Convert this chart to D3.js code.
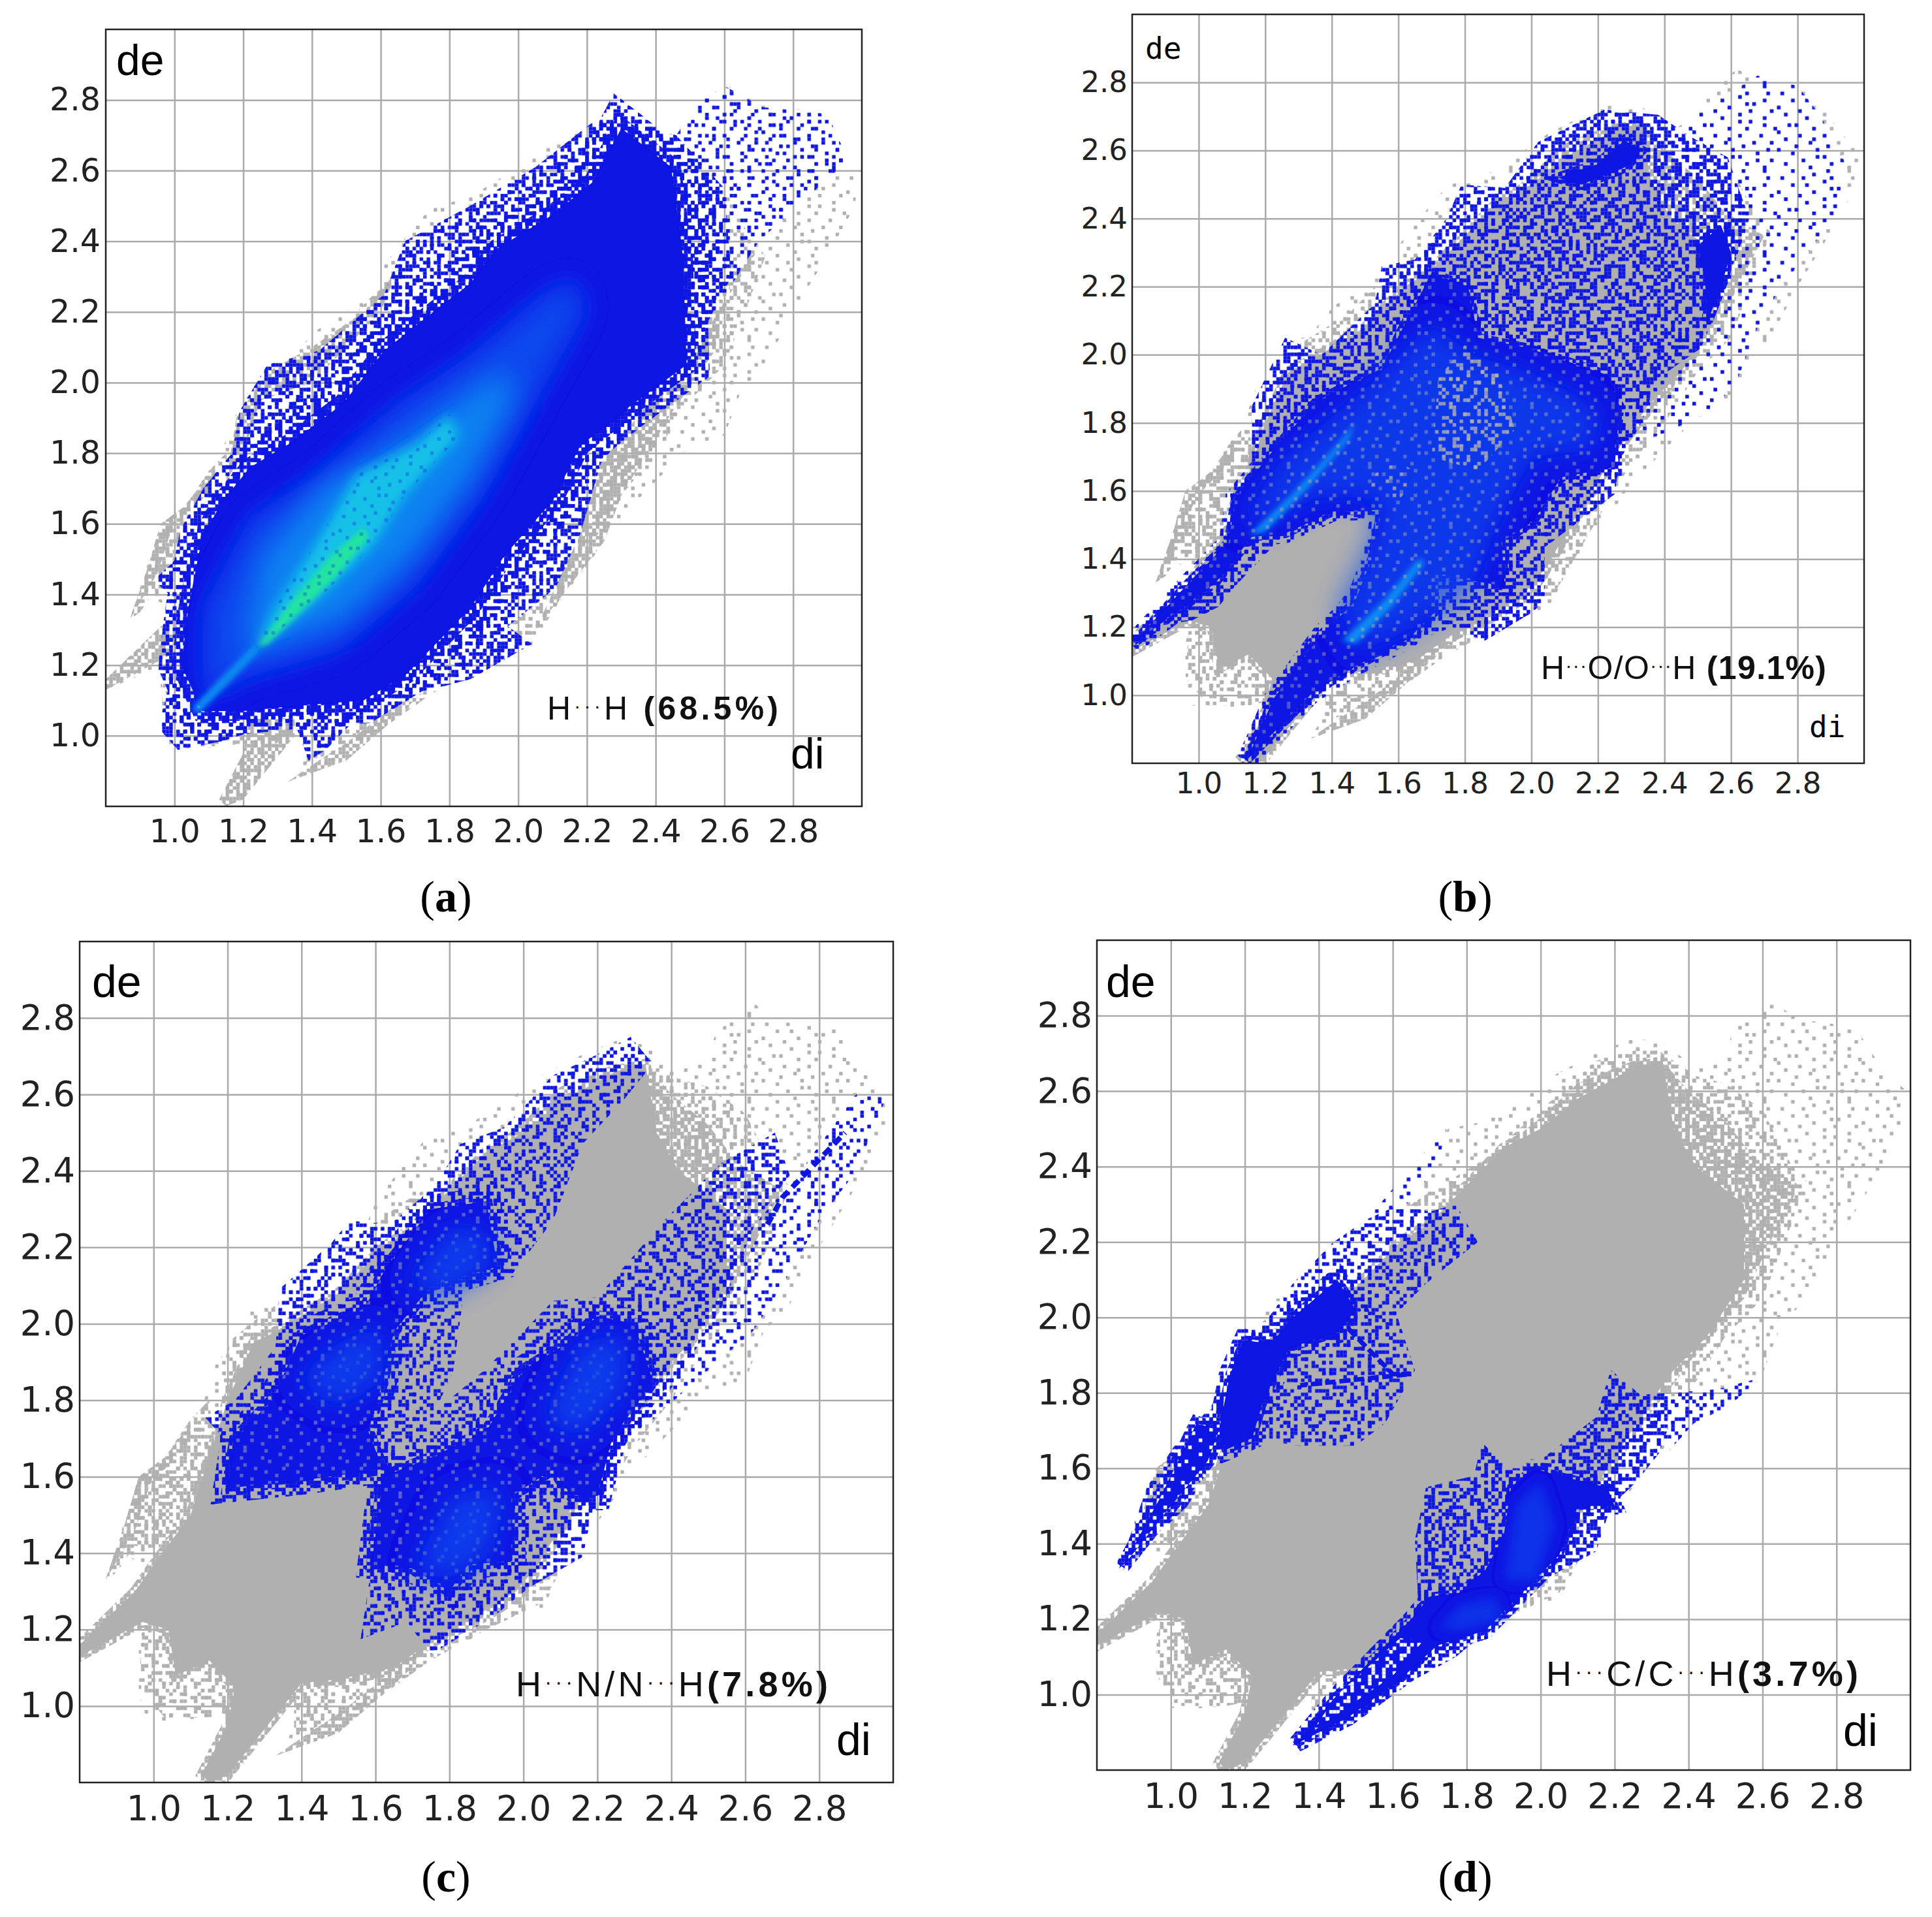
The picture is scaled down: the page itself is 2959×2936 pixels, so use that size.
<!DOCTYPE html>
<html>
<head>
<meta charset="utf-8">
<script src="https://cdn.jsdelivr.net/npm/d3@7"></script>
<style>
  html, body { margin: 0; padding: 0; background: #fff; }
  svg { display: block; }
</style>
</head>
<body>
<div id="chart"></div>
<script>
// all outlines are [di, de]
const tickValues = [1.0, 1.2, 1.4, 1.6, 1.8, 2.0, 2.2, 2.4, 2.6, 2.8];

// grey cloud, the same in all four plots
const greyOuter = [[0.80,1.13],[0.80,1.16],[0.95,1.30],[1.0,1.36],[0.93,1.39],[0.87,1.33],[0.92,1.48],[0.96,1.6],[1.0,1.63],[1.07,1.68],[1.13,1.78],[1.17,1.9],[1.22,1.95],[1.27,2.05],[1.33,2.05],[1.4,2.14],[1.5,2.2],[1.58,2.27],[1.6,2.32],[1.68,2.42],[1.75,2.5],[1.85,2.52],[1.95,2.58],[2.05,2.65],[2.15,2.70],[2.25,2.74],[2.33,2.73],[2.42,2.66],[2.5,2.7],[2.52,2.76],[2.58,2.81],[2.62,2.84],[2.7,2.79],[2.85,2.77],[2.93,2.65],[2.99,2.6],[2.98,2.5],[2.9,2.36],[2.8,2.2],[2.72,2.05],[2.65,1.98],[2.6,1.85],[2.5,1.82],[2.4,1.72],[2.3,1.62],[2.25,1.55],[2.2,1.48],[2.15,1.42],[2.1,1.35],[2.05,1.25],[1.95,1.24],[1.85,1.17],[1.75,1.12],[1.65,1.07],[1.6,1.02],[1.5,0.97],[1.4,0.92],[1.33,0.87],[1.38,0.94],[1.38,1.03],[1.35,1.0],[1.17,0.8],[1.13,0.82],[1.2,0.95],[1.2,1.0],[1.15,0.97],[1.03,0.96],[0.98,0.97],[0.96,1.03],[0.96,1.15],[0.97,1.2]];
const greyMid = [[0.96,1.05],[0.97,1.2],[1.1,1.5],[1.18,1.75],[1.2,1.95],[1.3,2.03],[1.45,2.12],[1.58,2.25],[1.68,2.32],[1.85,2.42],[2.0,2.55],[2.15,2.68],[2.3,2.72],[2.42,2.64],[2.5,2.62],[2.6,2.55],[2.68,2.4],[2.72,2.36],[2.66,2.2],[2.6,2.05],[2.5,1.95],[2.4,1.8],[2.3,1.68],[2.2,1.52],[2.1,1.35],[2.05,1.27],[1.9,1.2],[1.75,1.12],[1.62,1.03],[1.5,0.97],[1.38,0.92],[1.38,1.03],[1.25,0.95],[1.2,0.98],[1.15,0.97],[1.03,0.97]];
const greyFinger = [[0.87,1.33],[0.92,1.47],[0.96,1.6],[1.03,1.65],[1.1,1.75],[1.15,1.8],[1.17,1.65],[1.1,1.5],[1.0,1.4],[0.95,1.42],[0.9,1.35]];
const greyFingerEdge = [[0.87,1.33],[0.92,1.47],[0.96,1.6],[1.03,1.65],[1.1,1.74],[1.1,1.69],[0.99,1.58],[0.95,1.46]];
const greyHeavy = [[0.80,1.13],[0.80,1.16],[0.95,1.30],[1.0,1.37],[1.1,1.5],[1.15,1.65],[1.2,1.8],[1.27,1.95],[1.33,1.98],[1.5,2.08],[1.62,2.2],[1.7,2.25],[1.8,2.35],[1.9,2.45],[2.0,2.53],[2.1,2.62],[2.25,2.68],[2.33,2.68],[2.4,2.6],[2.5,2.52],[2.58,2.42],[2.7,2.35],[2.62,2.2],[2.55,2.05],[2.45,1.95],[2.38,1.85],[2.3,1.75],[2.2,1.6],[2.05,1.35],[2.0,1.28],[1.9,1.22],[1.75,1.15],[1.65,1.08],[1.5,1.05],[1.4,1.05],[1.35,1.0],[1.2,0.82],[1.15,0.8],[1.13,0.82],[1.2,0.95],[1.22,1.05],[1.15,1.12],[1.06,1.08],[1.04,1.2],[0.97,1.22]];
const greyCore = [[0.80,1.13],[0.80,1.16],[0.95,1.30],[1.0,1.37],[1.1,1.5],[1.15,1.65],[1.2,1.8],[1.27,1.95],[1.33,1.98],[1.5,2.08],[1.62,2.2],[1.7,2.25],[1.8,2.35],[1.9,2.45],[2.0,2.5],[2.1,2.58],[2.25,2.66],[2.33,2.68],[2.36,2.5],[2.42,2.4],[2.55,2.3],[2.55,2.1],[2.45,1.95],[2.35,1.85],[2.28,1.75],[2.18,1.6],[2.04,1.37],[1.98,1.3],[1.88,1.24],[1.75,1.17],[1.65,1.1],[1.5,1.07],[1.4,1.06],[1.35,1.0],[1.2,0.82],[1.15,0.8],[1.13,0.82],[1.2,0.95],[1.22,1.05],[1.15,1.12],[1.06,1.08],[1.04,1.2],[0.97,1.22]];
const greyLowerBand = [[1.33,0.87],[1.5,0.93],[1.62,1.03],[1.72,1.12],[1.66,1.1],[1.5,0.98],[1.42,0.93]];
// the bits of grey that still show next to the blue of plot (a)
const aGreyLowerRight = [[2.05,1.3],[2.25,1.55],[2.3,1.68],[2.45,1.92],[2.58,2.1],[2.62,2.3],[2.7,2.38],[2.55,2.15],[2.4,1.97],[2.24,1.77],[2.18,1.57]];
const aGreyUpperLeft = [[1.15,1.72],[1.18,1.9],[1.27,2.03],[1.4,2.1],[1.55,2.2],[1.65,2.32],[1.6,2.2],[1.4,2.0],[1.25,1.95],[1.2,1.8]];
const aGreyWedge = [[0.8,1.13],[0.8,1.16],[0.95,1.3],[1.03,1.37],[1.03,1.25],[0.97,1.22]];
const aGreyBottom = [[1.15,0.8],[1.13,0.82],[1.2,0.95],[1.22,1.05],[1.35,1.05],[1.35,1.0],[1.2,0.82]];

// (a) H...H
const aBlueFar = [[2.46,2.7],[2.52,2.79],[2.6,2.84],[2.71,2.78],[2.9,2.76],[2.96,2.63],[2.7,2.4],[2.54,2.15],[2.48,2.4]];
const aBlueOuter = [[0.96,1.015],[1.01,0.96],[1.14,0.985],[1.345,1.05],[1.39,0.93],[1.44,0.96],[1.58,1.1],[1.74,1.13],[1.86,1.16],[2.04,1.26],[1.97,1.31],[2.11,1.42],[2.18,1.57],[2.24,1.77],[2.40,1.97],[2.51,2.03],[2.54,2.15],[2.62,2.3],[2.6,2.55],[2.46,2.7],[2.33,2.73],[2.22,2.74],[2.05,2.61],[1.86,2.5],[1.67,2.4],[1.61,2.25],[1.42,2.09],[1.27,2.05],[1.19,1.92],[1.155,1.74],[1.08,1.57],[0.94,1.44],[1.03,1.36],[1.0,1.2],[0.96,1.05]];
const aBlueDense = [[1.04,1.36],[1.08,1.56],[1.14,1.665],[1.22,1.76],[1.34,1.83],[1.49,1.94],[1.61,2.09],[1.74,2.19],[1.86,2.28],[1.94,2.38],[2.10,2.475],[2.22,2.57],[2.30,2.72],[2.445,2.61],[2.48,2.35],[2.49,2.05],[2.335,1.94],[2.18,1.82],[2.10,1.665],[1.96,1.51],[1.86,1.36],[1.675,1.175],[1.55,1.10],[1.36,1.085],[1.2,1.07],[1.08,1.07],[1.02,1.2]];
const aDensityMid = [[1.08,1.1],[1.08,1.36],[1.22,1.62],[1.42,1.74],[1.63,1.93],[1.86,2.08],[2.08,2.26],[2.17,2.3],[2.2,2.2],[2.06,1.96],[1.9,1.68],[1.7,1.42],[1.48,1.24],[1.23,1.17]];
const aDensityLight = [[1.2,1.24],[1.25,1.5],[1.44,1.72],[1.61,1.8],[1.83,1.95],[1.96,2.04],[1.99,1.96],[1.86,1.73],[1.7,1.52],[1.49,1.33],[1.28,1.26]];
const aDensityCyan = [[1.23,1.245],[1.30,1.375],[1.42,1.56],[1.53,1.74],[1.71,1.83],[1.80,1.91],[1.83,1.85],[1.67,1.68],[1.58,1.54],[1.42,1.39],[1.27,1.27]];
const aDensityGreen = [[1.24,1.25],[1.34,1.38],[1.455,1.51],[1.55,1.59],[1.565,1.56],[1.47,1.45],[1.375,1.36],[1.27,1.26]];
const aTail = [[1.06,1.07],[1.24,1.25]];

// (b) H...O/O...H
const bBlueFar = [[2.46,2.7],[2.6,2.77],[2.68,2.82],[2.8,2.79],[2.87,2.7],[2.95,2.55],[2.92,2.42],[2.83,2.3],[2.75,2.2],[2.68,2.08],[2.62,1.93],[2.55,1.84],[2.4,1.77],[2.25,1.72],[2.3,1.9],[2.5,2.2]];
const bBlueOuter = [[0.80,1.14],[0.80,1.165],[0.98,1.355],[1.08,1.45],[1.10,1.58],[1.16,1.67],[1.16,1.85],[1.26,2.05],[1.37,2.0],[1.53,2.15],[1.55,2.26],[1.65,2.28],[1.745,2.40],[1.79,2.5],[1.92,2.49],[2.02,2.625],[2.22,2.72],[2.38,2.705],[2.48,2.64],[2.59,2.58],[2.655,2.40],[2.59,2.21],[2.51,2.02],[2.38,1.93],[2.33,1.80],[2.265,1.69],[2.25,1.59],[2.04,1.435],[2.04,1.28],[2.005,1.245],[1.86,1.16],[1.76,1.20],[1.63,1.15],[1.47,1.085],[1.34,0.975],[1.13,0.80],[1.22,1.02],[1.29,1.12],[1.40,1.245],[1.50,1.37],[1.54,1.53],[1.39,1.515],[1.26,1.475],[1.10,1.31],[1.06,1.26],[0.98,1.22],[0.89,1.205]];
const bBlueDense = [[0.80,1.15],[0.97,1.33],[1.09,1.45],[1.11,1.58],[1.225,1.72],[1.355,1.865],[1.55,1.96],[1.70,2.24],[1.81,2.2],[1.84,2.05],[1.99,2.02],[2.23,1.94],[2.265,1.85],[2.25,1.67],[2.09,1.64],[2.005,1.51],[1.91,1.45],[1.92,1.32],[1.71,1.355],[1.71,1.245],[1.63,1.165],[1.47,1.085],[1.34,1.005],[1.145,0.81],[1.225,0.99],[1.37,1.18],[1.47,1.275],[1.52,1.40],[1.55,1.545],[1.405,1.54],[1.26,1.475],[1.16,1.465],[1.05,1.33],[0.90,1.22]];
const bBlobTop = [[2.08,2.52],[2.2,2.56],[2.28,2.63],[2.33,2.6],[2.28,2.55],[2.15,2.5]];
const bBlobRight = [[2.52,2.25],[2.5,2.32],[2.57,2.38],[2.6,2.3],[2.57,2.2],[2.53,2.1]];
const bDensityMid = [[1.12,1.5],[1.25,1.7],[1.5,1.9],[1.7,2.1],[1.82,2.0],[2.0,1.95],[2.2,1.85],[2.2,1.72],[2.0,1.7],[1.9,1.5],[1.82,1.3],[1.65,1.2],[1.48,1.12],[1.42,1.25],[1.52,1.45],[1.55,1.58],[1.35,1.58],[1.2,1.5]];
const bStreakUpper = [[1.15,1.47],[1.28,1.59],[1.42,1.74],[1.47,1.8],[1.45,1.75],[1.32,1.6],[1.2,1.48]];
const bStreakLower = [[1.43,1.16],[1.55,1.27],[1.66,1.40],[1.68,1.39],[1.58,1.26],[1.47,1.15]];
const bSpeckA = [[1.7,1.7],[1.72,1.93],[1.8,2.03],[1.9,1.95],[1.95,1.78],[1.84,1.66]];
const bSpeckB = [[1.5,1.62],[1.58,1.7],[1.66,1.65],[1.6,1.57]];

// (c) H...N/N...H
const cBlueFar = [[2.35,1.95],[2.75,2.4],[2.9,2.6],[2.98,2.59],[2.9,2.4],[2.8,2.27],[2.7,2.1],[2.62,1.98],[2.5,1.88],[2.35,1.75]];
const cBlueUpper = [[1.14,1.755],[1.22,1.8],[1.33,1.94],[1.34,2.09],[1.48,2.21],[1.53,2.27],[1.64,2.26],[1.76,2.36],[1.83,2.47],[1.95,2.515],[2.08,2.65],[2.19,2.70],[2.29,2.75],[2.35,2.68],[2.275,2.59],[2.16,2.47],[2.08,2.27],[1.97,2.13],[1.84,2.09],[1.81,1.875],[1.76,1.77],[1.72,1.66],[1.61,1.62],[1.21,1.555],[1.18,1.56],[1.18,1.71]];
const cBlueLower = [[1.62,1.62],[1.72,1.68],[1.76,1.77],[1.89,1.875],[2.0,1.98],[2.08,2.06],[2.2,2.07],[2.30,2.18],[2.38,2.27],[2.535,2.42],[2.68,2.5],[2.72,2.39],[2.63,2.27],[2.535,2.04],[2.36,1.77],[2.25,1.66],[2.19,1.525],[2.16,1.39],[2.015,1.31],[1.92,1.235],[1.75,1.135],[1.685,1.22],[1.56,1.175],[1.59,1.37]];
const cDenseUpperLeft = [[1.2,1.57],[1.22,1.7],[1.32,1.8],[1.4,1.97],[1.57,2.04],[1.63,2.15],[1.75,2.3],[1.9,2.32],[1.93,2.15],[1.75,2.1],[1.65,1.98],[1.62,1.85],[1.58,1.72],[1.62,1.62],[1.4,1.59]];
const cDenseLower = [[1.59,1.37],[1.62,1.6],[1.75,1.65],[1.9,1.72],[2.0,1.88],[2.12,1.95],[2.2,2.02],[2.3,2.0],[2.35,1.85],[2.24,1.7],[2.2,1.55],[2.13,1.55],[2.08,1.62],[1.97,1.55],[1.97,1.38],[1.85,1.37],[1.8,1.3],[1.7,1.36]];
const cSpotA = [[1.38,1.85],[1.5,1.95],[1.62,2.0],[1.62,1.85],[1.5,1.78]];
const cSpotB = [[1.68,2.1],[1.8,2.25],[1.9,2.25],[1.92,2.15],[1.78,2.07]];
const cSpotC = [[2.05,1.75],[2.15,1.95],[2.28,1.98],[2.28,1.82],[2.15,1.7]];
const cSpotD = [[1.7,1.35],[1.8,1.55],[1.95,1.58],[1.92,1.4],[1.8,1.33]];
const cStreak = [[2.66,2.26],[2.7,2.33],[2.87,2.5]];

// (d) H...C/C...H
const dBlueFar = [[1.53,2.26],[1.66,2.41],[1.745,2.5],[1.72,2.4],[1.62,2.28],[1.56,2.2]];
const dBlueUpper = [[0.86,1.335],[0.935,1.55],[1.01,1.66],[1.11,1.765],[1.155,1.89],[1.25,1.98],[1.33,2.09],[1.44,2.2],[1.53,2.26],[1.62,2.3],[1.7,2.28],[1.77,2.30],[1.83,2.2],[1.69,2.09],[1.61,2.01],[1.66,1.86],[1.58,1.72],[1.50,1.66],[1.345,1.66],[1.22,1.68],[1.12,1.63],[1.045,1.50],[0.97,1.43]];
const dDenseUpper = [[1.13,1.7],[1.16,1.85],[1.2,1.94],[1.27,1.93],[1.33,2.0],[1.45,2.1],[1.5,2.02],[1.45,1.96],[1.32,1.92],[1.25,1.78],[1.22,1.68],[1.15,1.65]];
const dDenseFinger = [[0.87,1.34],[1.0,1.5],[1.1,1.62],[1.13,1.7],[1.07,1.72],[0.97,1.52]];
const dStreakUpper = [[1.48,1.97],[1.6,1.85],[1.65,1.85],[1.35,1.82]];
const dBlueLower = [[1.33,0.865],[1.52,0.95],[1.66,1.04],[1.77,1.10],[1.895,1.20],[2.02,1.31],[2.15,1.38],[2.19,1.50],[2.26,1.565],[2.32,1.64],[2.35,1.72],[2.35,1.80],[2.27,1.795],[2.19,1.86],[2.15,1.735],[2.05,1.66],[1.97,1.6],[1.91,1.6],[1.84,1.67],[1.82,1.58],[1.69,1.55],[1.66,1.41],[1.67,1.225],[1.60,1.12],[1.455,1.025],[1.345,0.89]];
const dBlueTail = [[2.35,1.65],[2.415,1.72],[2.51,1.765],[2.595,1.84],[2.48,1.81],[2.35,1.80],[2.3,1.75]];
const dDenseLower = [[1.34,0.87],[1.48,0.94],[1.62,1.04],[1.72,1.13],[1.85,1.17],[1.98,1.3],[2.05,1.37],[2.1,1.5],[2.2,1.5],[2.18,1.55],[2.05,1.58],[1.98,1.6],[1.92,1.55],[1.9,1.42],[1.85,1.33],[1.78,1.27],[1.7,1.26],[1.65,1.2],[1.55,1.1],[1.45,1.0]];
const dTipSpeck = [[1.38,0.9],[1.6,1.05],[1.68,1.14],[1.62,1.15],[1.45,1.0]];
const dSpotA = [[1.72,1.17],[1.78,1.24],[1.88,1.26],[1.9,1.2],[1.8,1.17]];
const dSpotB = [[1.9,1.3],[1.93,1.5],[2.0,1.57],[2.04,1.45],[1.99,1.3]];

// hand typed stipple tiles, one char per grid bin
const sparseTile = [
  "....#.........#.....#...",
  "..........#.............",
  ".#.....#.......#.....#..",
  ".............#..........",
  "....#...#...........#...",
  "...............#.#......",
  "#.........#.............",
  "......#.........#.....#.",
  "..#..........#..........",
  "........#...........#...",
  ".............#..#.......",
  "...#.#..............#...",
  "..........#....#.......#",
  "#.......................",
  "......#......#.....#....",
  "..#.......#.............",
  ".........#.......#....#.",
  ".....#........#.........",
  "#..........#.........#..",
  "....#.............#.....",
  "...........#.#..........",
  ".......#..........#...#.",
  "..#............#........",
  ".........#..........#..."
];
const mediumTile = [
  "#.##.#..###.#.##..#.#.##",
  ".##.#.##.#.##..#.##.#.#.",
  "#..##.#.###..##.#.#.##..",
  ".#.#.##...#.##.###.#..##",
  "##.#..#.##.#..#.#.##.#.#",
  ".#.###.#.#..##.#..#.##..",
  "#.#..##.##.#.#.##.##.#.#",
  "##.#.#..#.##.#..#.#..###",
  ".#.##.##.#..###.##.#.#..",
  "#.#.#..#.##.#.#..#.##.#.",
  ".##..#.##.#.##.##.#..###",
  "#.#.##.#..###..#.##.#.#.",
  ".#.#..##.#.#.##.#.#.##..",
  "##..##.#.##.#..##..#.#.#",
  "#.##.#.#..#.##.#.##.#..#",
  ".#.#.##.##.#..#.#.#.##.#",
  "#.#..#.#.#.###.##.#..##.",
  ".##.##..#.#..#.#.##.#.#.",
  "#..#.#.##.##.#..#.#.##.#",
  ".##.#.#.#.#.##.##..#.#.#",
  "#.#.##.#..##..#.#.##.#..",
  ".#.#..##.#.##.#.##.#..##",
  "##.##.#.#..#.##.#..##.#.",
  ".#..#.##.##.#.#..#.#.#.#"
];

// plot frames in page pixels
const panels = [
  { key: "a", left: 162, right: 1320, top: 45, bottom: 1235, font: 49, pad: 20, gap: 8,
    note: ["H", "H"], percent: " (68.5%)", noteX: 838, noteY: 1102, noteW: 354, noteSize: 50,
    de: [178, 115, 66], di: [1211, 1177, 66], caption: [683, 1396] },
  { key: "b", left: 1734, right: 2855, top: 22, bottom: 1169, font: 45, pad: 14, gap: 7,
    note: ["H", "O/O", "H"], percent: " (19.1%)", noteX: 2360, noteY: 1040, noteW: 437, noteSize: 50,
    de: [1754, 90, 46], di: [2771, 1129, 46], caption: [2244, 1396] },
  { key: "c", left: 122, right: 1368, top: 1442, bottom: 2730, font: 53, pad: 20, gap: 7,
    note: ["H", "N/N", "H"], percent: "(7.8%)", noteX: 790, noteY: 2598, noteW: 478, noteSize: 54,
    de: [141, 1527, 68], di: [1281, 2688, 68], caption: [683, 2897] },
  { key: "d", left: 1680, right: 2926, top: 1440, bottom: 2711, font: 53, pad: 20, gap: 7,
    note: ["H", "C/C", "H"], percent: "(3.7%)", noteX: 2368, noteY: 2582, noteW: 478, noteSize: 54,
    de: [1694, 1527, 68], di: [2823, 2674, 68], caption: [2244, 2897] }
];

const solidBlue = "#0a12e2";
const colorMid = "#0a46ee";
const colorLight = "#0a8ef2";
const colorCyan = "#12cce6";
const colorGreen = "#22e4a0";
const gridGrey = "#aaaaaa";
const cloudGrey = "#b0b0b0";

// how many stipple tiles get stacked for each density
const levels = {
  far: ["s1"],
  light: ["s1", "s2", "s3"],
  midLight: ["s1", "s2", "s3", "s4"],
  mid: ["s1", "s2", "s3", "s4", "s5", "s6"],
  heavy: ["m1", "s1", "s2", "s3"]
};

// what gets stacked in each plot, bottom first
const blueLayers = {
  a: [
    { points: aBlueFar, level: "far" },
    { points: aBlueFar, level: "far", tiles: ["s2"] },
    { points: aBlueOuter, level: "mid" },
    { points: aBlueDense, fill: solidBlue, edges: [[70, "mid"], [30, "heavy"]] },
    { points: aDensityMid, fill: colorMid, blur: "soft" },
    { points: aDensityLight, fill: colorLight, blur: "soft", opacity: 0.85 },
    { points: aDensityCyan, fill: colorCyan, blur: "tight", opacity: 0.85 },
    { line: aTail, stroke: colorLight, width: 14, blur: "thin" },
    { points: aDensityGreen, fill: colorGreen, blur: "thin" },
    { points: aDensityCyan, level: "far", opacity: 0.3 }
  ],
  b: [
    { points: bBlueFar, level: "far" },
    { points: bBlueOuter, level: "mid" },
    { points: bBlueDense, fill: solidBlue, edges: [[30, "light"], [14, "heavy"]] },
    { points: bBlobTop, fill: solidBlue, edges: [[16, "heavy"]] },
    { points: bBlobRight, fill: solidBlue, edges: [[16, "heavy"]] },
    { points: bDensityMid, fill: colorMid, blur: "soft", opacity: 0.7 },
    { points: bStreakUpper, fill: colorLight, blur: "thin" },
    { points: bStreakLower, fill: colorLight, blur: "thin" },
    { points: bBlueDense, level: "far", tiles: ["s3"], color: "grey", opacity: 0.45 },
    { points: bSpeckA, level: "light", color: "grey", opacity: 0.8 },
    { points: bSpeckB, level: "far", color: "grey", opacity: 0.8 }
  ],
  c: [
    { points: cBlueFar, level: "far" },
    { points: cBlueFar, level: "far", tiles: ["s2"] },
    { points: cBlueUpper, level: "midLight" },
    { points: cBlueLower, level: "midLight" },
    { points: cDenseUpperLeft, fill: solidBlue, edges: [[44, "mid"], [18, "heavy"]] },
    { points: cDenseLower, fill: solidBlue, edges: [[44, "mid"], [18, "heavy"]] },
    { points: cDenseUpperLeft, level: "far", tiles: ["s6"], color: "grey", opacity: 0.5 },
    { points: cDenseLower, level: "far", tiles: ["s6"], color: "grey", opacity: 0.5 },
    { points: cSpotA, fill: colorMid, blur: "soft", opacity: 0.8 },
    { points: cSpotB, fill: colorMid, blur: "soft", opacity: 0.8 },
    { points: cSpotC, fill: colorMid, blur: "soft", opacity: 0.8 },
    { points: cSpotD, fill: colorMid, blur: "soft", opacity: 0.8 },
    { line: cStreak, stroke: solidBlue, width: 8, dash: "14 9" }
  ],
  d: [
    { points: dBlueFar, level: "far" },
    { points: dBlueUpper, level: "midLight" },
    { points: dBlueTail, level: "light" },
    { points: dBlueLower, level: "mid" },
    { points: dDenseUpper, fill: solidBlue, edges: [[34, "mid"], [14, "heavy"]] },
    { points: dDenseFinger, fill: solidBlue, edges: [[22, "heavy"]] },
    { points: dDenseLower, fill: solidBlue, edges: [[26, "mid"], [12, "heavy"]] },
    { line: dStreakUpper, stroke: solidBlue, width: 7, dash: "16 6" },
    { points: dSpotA, fill: colorMid, blur: "tight", opacity: 0.6 },
    { points: dSpotB, fill: colorMid, blur: "tight", opacity: 0.6 },
    { points: dDenseFinger, level: "far", color: "white" },
    { points: dTipSpeck, level: "light", color: "white" }
  ]
};

const svg = d3.select("#chart").append("svg")
    .attr("width", 2959)
    .attr("height", 2936);

svg.append("rect").attr("width", 2959).attr("height", 2936).attr("fill", "#fff");

const defs = svg.append("defs");
const cell = 5.4;

// crops of different sizes, so stacking them does not show a repeat
function addTile(id, tile, color, cols, rows, startRow, flip) {
  const pattern = defs.append("pattern")
      .attr("id", id)
      .attr("patternUnits", "userSpaceOnUse")
      .attr("width", cell * cols)
      .attr("height", cell * rows);
  for (let j = 0; j < rows; j++) {
    let row = tile[(j + startRow) % tile.length].split("");
    if (flip) row = row.reverse();
    row.slice(0, cols).forEach((c, i) => {
      if (c === "#") {
        pattern.append("rect")
            .attr("x", i * cell)
            .attr("y", j * cell)
            .attr("width", cell)
            .attr("height", cell)
            .attr("fill", color);
      }
    });
  }
}
[["blue", solidBlue], ["grey", cloudGrey], ["white", "#ffffff"]].forEach(([name, color]) => {
  addTile(name + "-s1", sparseTile, color, 24, 24, 0, false);
  addTile(name + "-s2", sparseTile, color, 19, 23, 5, true);
  addTile(name + "-s3", sparseTile, color, 23, 17, 11, false);
  addTile(name + "-s4", sparseTile, color, 21, 19, 3, true);
  addTile(name + "-s5", sparseTile, color, 17, 22, 8, false);
  addTile(name + "-s6", sparseTile, color, 22, 13, 16, true);
  addTile(name + "-m1", mediumTile, color, 23, 22, 2, false);
});

[["soft", 22], ["tight", 9], ["thin", 4], ["grain", 0.7]].forEach(([id, size]) => {
  defs.append("filter").attr("id", id)
      .attr("x", "-30%").attr("y", "-30%").attr("width", "160%").attr("height", "160%")
      .append("feGaussianBlur").attr("stdDeviation", size);
});

function drawPanel(p) {
  const x = d3.scaleLinear().domain([0.8, 3.0]).range([p.left, p.right]);
  const y = d3.scaleLinear().domain([0.8, 3.0]).range([p.bottom, p.top]);
  const shape = d3.line().x(d => x(d[0])).y(d => y(d[1])).curve(d3.curveLinearClosed);
  const path = d3.line().x(d => x(d[0])).y(d => y(d[1]));
  const g = svg.append("g").attr("class", "panel-" + p.key);
  const w = p.right - p.left;
  const h = p.bottom - p.top;

  defs.append("clipPath").attr("id", "clip-" + p.key)
      .append("rect").attr("x", p.left).attr("y", p.top).attr("width", w).attr("height", h);

  // axes carry the grid lines and the labels
  const xAxis = g.append("g")
      .attr("transform", `translate(0,${p.bottom})`)
      .call(d3.axisBottom(x).tickValues(tickValues).tickFormat(d3.format(".1f")).tickSize(-h).tickPadding(p.pad));
  const yAxis = g.append("g")
      .attr("transform", `translate(${p.left},0)`)
      .call(d3.axisLeft(y).tickValues(tickValues).tickFormat(d3.format(".1f")).tickSize(-w).tickPadding(p.gap));
  [xAxis, yAxis].forEach(axis => {
    axis.select(".domain").remove();
    axis.selectAll("line").attr("stroke", gridGrey).attr("stroke-width", 2.5);
    axis.selectAll("text")
        .attr("fill", "#222")
        .style("font-family", "'DejaVu Sans', sans-serif")
        .style("font-size", p.font + "px");
  });

  const clip = g.append("g").attr("clip-path", `url(#clip-${p.key})`);
  const marks = clip.append("g").attr("filter", "url(#grain)");

  function addLevel(points, level, color, opacity, tiles) {
    (tiles || levels[level]).forEach(t => {
      marks.append("path").attr("d", shape(points))
          .attr("fill", `url(#${color}-${t})`)
          .attr("opacity", opacity === undefined ? 1 : opacity);
    });
  }

  function addEdges(points, edges, color) {
    edges.forEach(([width, level]) => {
      levels[level].forEach(t => {
        marks.append("path").attr("d", shape(points))
            .attr("fill", "none")
            .attr("stroke", `url(#${color}-${t})`)
            .attr("stroke-width", width);
      });
    });
  }

  addLevel(greyOuter, "far", "grey");
  addLevel(greyMid, "midLight", "grey");
  addLevel(greyFinger, "mid", "grey");
  addLevel(greyFingerEdge, "heavy", "grey");
  addLevel(greyLowerBand, "heavy", "grey");
  if (p.key === "a") {
    [aGreyLowerRight, aGreyUpperLeft, aGreyWedge, aGreyBottom].forEach(part => addLevel(part, "heavy", "grey"));
  } else {
    addLevel(greyHeavy, "heavy", "grey");
    addEdges(greyCore, [[16, "heavy"]], "grey");
    marks.append("path").attr("d", shape(greyCore)).attr("fill", cloudGrey);
  }

  blueLayers[p.key].forEach(layer => {
    if (layer.line) {
      const el = marks.append("path").attr("d", path(layer.line))
          .attr("fill", "none").attr("stroke", layer.stroke).attr("stroke-width", layer.width);
      if (layer.dash) el.attr("stroke-dasharray", layer.dash);
      if (layer.blur) el.attr("filter", `url(#${layer.blur})`);
    } else if (layer.level) {
      addLevel(layer.points, layer.level, layer.color || "blue", layer.opacity, layer.tiles);
    } else {
      if (layer.edges) addEdges(layer.points, layer.edges, "blue");
      const el = marks.append("path").attr("d", shape(layer.points)).attr("fill", layer.fill);
      if (layer.opacity !== undefined) el.attr("opacity", layer.opacity);
      if (layer.blur) el.attr("filter", `url(#${layer.blur})`);
    }
  });

  g.append("rect")
      .attr("x", p.left).attr("y", p.top).attr("width", w).attr("height", h)
      .attr("fill", "none").attr("stroke", "#222").attr("stroke-width", 2.5);

  // note inside the plot, the contact dots are small and raised
  const note = g.append("text")
      .attr("x", p.noteX).attr("y", p.noteY)
      .attr("textLength", p.noteW)
      .attr("fill", "#111")
      .style("font-family", "'Liberation Sans', Arial, sans-serif")
      .style("font-size", p.noteSize + "px");
  p.note.forEach((part, i) => {
    if (i > 0) {
      note.append("tspan").attr("dy", -11).style("font-size", (p.noteSize * 0.6) + "px").text("···");
      note.append("tspan").attr("dy", 11).text(part);
    } else {
      note.append("tspan").text(part);
    }
  });
  note.append("tspan").style("font-weight", 700).attr("xml:space", "preserve").text(p.percent);

  const labelFont = p.key === "b" ? "'DejaVu Sans Mono', monospace" : "'Liberation Sans', Arial, sans-serif";
  g.append("text").attr("x", p.de[0]).attr("y", p.de[1]).text("de")
      .style("font-family", labelFont).style("font-size", p.de[2] + "px").attr("fill", "#000");
  g.append("text").attr("x", p.di[0]).attr("y", p.di[1]).text("di")
      .style("font-family", labelFont).style("font-size", p.di[2] + "px").attr("fill", "#000");

  const caption = g.append("text")
      .attr("x", p.caption[0]).attr("y", p.caption[1])
      .attr("text-anchor", "middle").attr("fill", "#000")
      .style("font-family", "'Liberation Serif', 'Times New Roman', serif")
      .style("font-size", "68px");
  caption.append("tspan").text("(");
  caption.append("tspan").style("font-weight", 700).text(p.key);
  caption.append("tspan").text(")");
}

panels.forEach(drawPanel);
</script>
</body>
</html>
